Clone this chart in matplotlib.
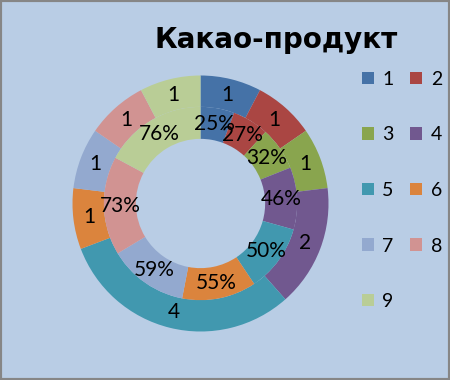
import matplotlib
matplotlib.use("Agg")
import matplotlib.pyplot as plt
from matplotlib.patches import Rectangle, Patch

# ---------------------------------------------------------
# DATA
# ---------------------------------------------------------
CATEGORIES = ["1", "2", "3", "4", "5", "6", "7", "8", "9"]
OUTER_VALUES = [1, 1, 1, 2, 4, 1, 1, 1, 1]
INNER_PCT = [25, 27, 32, 46, 50, 55, 59, 73, 76]
TITLE = "Какао-продукт"

COLORS = ["#4572A7", "#AA4643", "#89A54E", "#71588F", "#4198AF",
          "#DB843D", "#93A9CF", "#D19392", "#B9CD96"]
BG = "#B9CDE5"
NUM_FONT = ["Lato", "DejaVu Sans"]

plt.rcParams["font.family"] = ["DejaVu Sans"]

fig = plt.figure(figsize=(4.5, 3.8), dpi=100)
fig.patch.set_facecolor(BG)

# outer ring centre ~ (200,203) px, radius ~128 px
ax = fig.add_axes([72.5 / 450, 48.5 / 380, 256 / 450, 256 / 380])
ax.set_facecolor(BG)

outer_txt = iter(OUTER_VALUES)
_, _, t_out = ax.pie(OUTER_VALUES, radius=1.0, colors=COLORS, startangle=90,
                     counterclock=False,
                     wedgeprops=dict(width=0.245, edgecolor="none"),
                     autopct=lambda p: str(next(outer_txt)), pctdistance=0.875)

inner_txt = iter(INNER_PCT)
_, _, t_in = ax.pie(INNER_PCT, radius=0.755, colors=COLORS, startangle=90,
                    counterclock=False,
                    wedgeprops=dict(width=0.25, edgecolor="none"),
                    autopct=lambda p: f"{next(inner_txt)}%", pctdistance=0.835)

for t in list(t_out) + list(t_in):
    t.set_fontsize(15)
    t.set_family(NUM_FONT)
    t.set_color("black")

ax.set_xlim(-1, 1)
ax.set_ylim(-1, 1)

fig.text(276 / 450, 1 - 48 / 380, TITLE, ha="center", va="baseline",
         fontsize=20, fontweight="bold", color="black")

# legend laid out row-wise: 1 2 / 3 4 / ...
handles = [Patch(facecolor=c, edgecolor="none") for c in COLORS]
order = list(range(0, 9, 2)) + list(range(1, 9, 2))
fig.legend([handles[i] for i in order], [CATEGORIES[i] for i in order],
           ncol=2, loc="upper left", bbox_to_anchor=(362 / 450, 1 - 71 / 380),
           frameon=False, prop=dict(family=NUM_FONT, size=14),
           handlelength=0.6, handleheight=0.6,
           handletextpad=0.45, labelspacing=1.98, columnspacing=0.85,
           borderpad=0, borderaxespad=0)

# grey frame
fig.patches.append(Rectangle((0, 0), 1, 1, transform=fig.transFigure,
                             fill=False, edgecolor="#868686", linewidth=3))

fig.savefig("out.png", dpi=100, facecolor=BG)
